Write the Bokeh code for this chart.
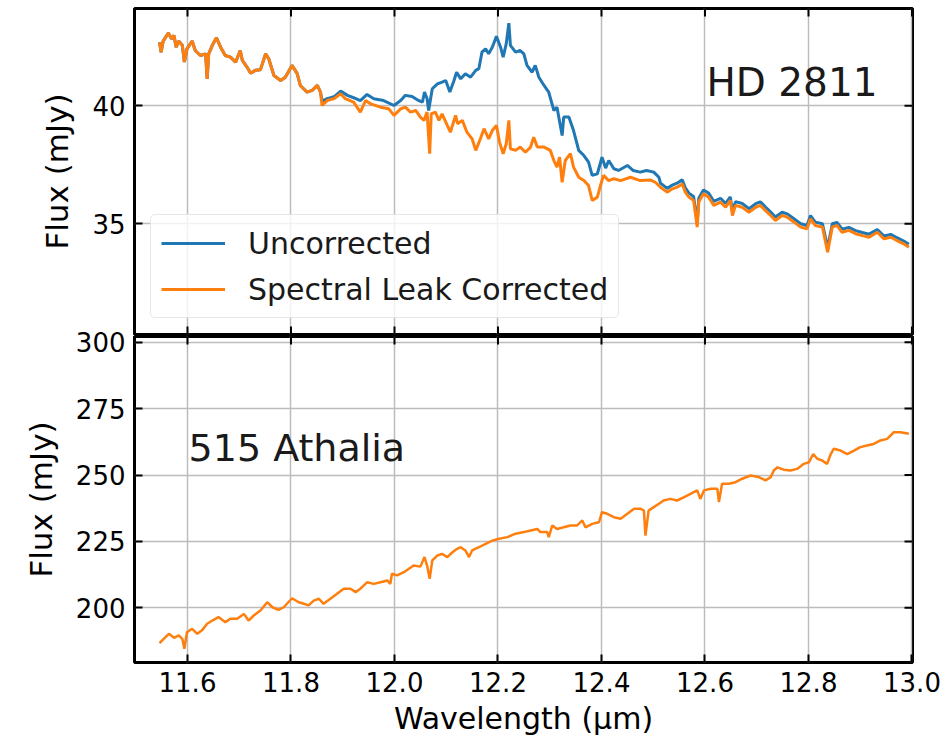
import math
from bokeh.plotting import figure
from bokeh.models import Range1d, FixedTicker, NumeralTickFormatter, Label, Grid
from bokeh.layouts import column
from bokeh.embed import file_html
from bokeh.resources import INLINE

# ---------------- data ----------------
# HD 2811, spectral-leak-corrected spectrum, split in three segments
corr_wave_a = [11.546, 11.549, 11.553, 11.563, 11.569, 11.574, 11.578, 11.583, 11.590, 11.594,
               11.599, 11.609, 11.615, 11.625, 11.635, 11.638, 11.641, 11.648, 11.656, 11.664,
               11.673, 11.683, 11.693, 11.702, 11.706, 11.715, 11.722, 11.731, 11.741, 11.751,
               11.757, 11.767, 11.780, 11.789, 11.802, 11.812, 11.818, 11.831, 11.841, 11.851,
               11.857]
corr_flux_a = [42.69, 42.27, 42.74, 43.08, 42.84, 42.98, 42.48, 42.74, 42.56, 41.85,
               42.41, 42.74, 42.34, 42.13, 42.20, 41.14, 42.20, 42.56, 42.88, 42.48,
               42.13, 42.06, 41.85, 42.34, 41.92, 41.64, 41.38, 41.50, 41.53, 42.20,
               41.99, 41.28, 41.07, 41.21, 41.71, 41.36, 40.86, 40.58, 40.65, 40.86,
               40.58]
corr_wave_b = [11.860, 11.870, 11.883, 11.896, 11.905, 11.921, 11.934, 11.944, 11.954, 11.973,
               11.989, 11.999, 12.012, 12.021, 12.031, 12.041, 12.050, 12.057, 12.063, 12.068,
               12.071, 12.079, 12.086, 12.092, 12.102, 12.108, 12.118, 12.122, 12.131, 12.140,
               12.150, 12.157, 12.166, 12.173, 12.182, 12.189, 12.197, 12.203, 12.210, 12.216,
               12.221, 12.224, 12.234, 12.243, 12.253, 12.263, 12.269, 12.276, 12.289, 12.301,
               12.308, 12.314, 12.319, 12.324, 12.330, 12.340, 12.346, 12.356, 12.366, 12.375,
               12.382, 12.392, 12.398, 12.404, 12.414, 12.424, 12.437, 12.456, 12.475, 12.495,
               12.504]
corr_flux_b = [40.01, 40.22, 40.30, 40.51, 40.30, 40.15, 39.73, 40.22, 40.08, 39.94,
               39.87, 39.59, 39.87, 39.94, 39.73, 39.80, 39.52, 39.38, 39.73, 37.97,
               39.66, 39.73, 39.38, 39.66, 39.17, 38.88, 39.59, 39.24, 39.38, 38.88,
               38.60, 38.11, 38.60, 39.03, 38.60, 38.95, 39.17, 38.46, 37.97, 38.39,
               39.38, 38.18, 38.11, 38.25, 38.03, 38.25, 38.67, 38.25, 38.25, 38.11,
               37.68, 37.40, 37.82, 36.76, 37.68, 37.97, 37.40, 36.97, 36.83, 36.62,
               35.99, 36.13, 36.62, 37.05, 36.83, 36.91, 36.83, 36.97, 36.83, 36.85,
               36.76]
corr_wave_c = [12.514, 12.527, 12.537, 12.546, 12.556, 12.562, 12.569, 12.578, 12.585, 12.588,
               12.597, 12.607, 12.617, 12.630, 12.640, 12.649, 12.653, 12.659, 12.672, 12.685,
               12.698, 12.707, 12.717, 12.727, 12.736, 12.749, 12.759, 12.772, 12.785, 12.797,
               12.804, 12.813, 12.827, 12.837, 12.846, 12.855, 12.865, 12.878, 12.891, 12.904,
               12.917, 12.933, 12.946, 12.959, 12.971, 12.984, 12.994]
corr_flux_c = [36.55, 36.34, 36.48, 36.55, 36.69, 36.34, 36.13, 35.99, 34.86, 35.92,
               36.27, 36.13, 35.78, 35.92, 35.70, 35.99, 35.35, 35.78, 35.70, 35.49,
               35.70, 35.78, 35.56, 35.35, 35.14, 35.35, 35.28, 35.07, 34.86, 34.79,
               35.21, 34.93, 34.86, 33.80, 34.86, 34.93, 34.64, 34.72, 34.58, 34.50,
               34.43, 34.64, 34.36, 34.43, 34.29, 34.15, 34.01]

# HD 2811, uncorrected spectrum where it differs from the corrected one
leak_wave = [11.860, 11.870, 11.883, 11.896, 11.909, 11.921, 11.934, 11.947, 11.960, 11.979,
             11.999, 12.012, 12.021, 12.034, 12.044, 12.054, 12.058, 12.063, 12.066, 12.073,
             12.083, 12.092, 12.099, 12.107, 12.115, 12.120, 12.128, 12.137, 12.147, 12.157,
             12.163, 12.169, 12.176, 12.182, 12.189, 12.197, 12.205, 12.210, 12.216, 12.221,
             12.224, 12.234, 12.243, 12.250, 12.256, 12.266, 12.272, 12.279, 12.289, 12.298,
             12.308, 12.314, 12.324, 12.327, 12.337, 12.346, 12.356, 12.366, 12.375, 12.382,
             12.392, 12.401, 12.408, 12.414, 12.424, 12.433, 12.450, 12.461, 12.475, 12.487,
             12.501, 12.511]
leak_flux = [40.20, 40.30, 40.38, 40.62, 40.44, 40.34, 40.22, 40.48, 40.30, 40.22,
             40.01, 40.22, 40.44, 40.39, 40.25, 40.15, 40.58, 40.30, 39.80, 40.72,
             40.93, 41.00, 41.07, 40.58, 41.07, 41.42, 41.14, 41.36, 41.21, 41.50,
             41.57, 42.27, 42.41, 42.20, 42.48, 42.94, 42.48, 42.06, 42.63, 43.50,
             42.56, 42.27, 42.34, 42.20, 41.71, 41.42, 41.71, 41.21, 40.86, 40.58,
             39.80, 39.94, 38.74, 39.52, 39.52, 38.95, 38.11, 37.89, 37.61, 37.05,
             37.12, 37.82, 37.36, 37.68, 37.33, 37.26, 37.47, 37.26, 37.19, 37.26,
             37.19, 36.97]
unc_flux_c = [36.72, 36.50, 36.64, 36.72, 36.86, 36.52, 36.30, 36.16, 35.05, 36.08,
              36.43, 36.30, 35.95, 36.08, 35.86, 36.14, 35.52, 35.94, 35.86, 35.64,
              35.85, 35.93, 35.71, 35.50, 35.29, 35.49, 35.42, 35.21, 35.00, 34.93,
              35.35, 35.07, 35.00, 33.98, 35.00, 35.06, 34.77, 34.85, 34.71, 34.63,
              34.56, 34.76, 34.48, 34.55, 34.41, 34.27, 34.13]

# 515 Athalia spectrum
ath_wave = [11.546, 11.554, 11.564, 11.574, 11.583, 11.590, 11.594, 11.599, 11.609, 11.619,
            11.628, 11.638, 11.648, 11.660, 11.673, 11.683, 11.696, 11.709, 11.718, 11.728,
            11.741, 11.754, 11.764, 11.776, 11.786, 11.802, 11.815, 11.825, 11.834, 11.844,
            11.854, 11.863, 11.876, 11.889, 11.902, 11.915, 11.925, 11.934, 11.947, 11.960,
            11.973, 11.986, 11.992, 11.995, 12.005, 12.018, 12.028, 12.037, 12.050, 12.058,
            12.063, 12.068, 12.073, 12.083, 12.092, 12.102, 12.112, 12.121, 12.128, 12.137,
            12.144, 12.150, 12.163, 12.176, 12.189, 12.202, 12.218, 12.234, 12.250, 12.263,
            12.276, 12.282, 12.295, 12.298, 12.305, 12.314, 12.327, 12.340, 12.353, 12.363,
            12.369, 12.382, 12.395, 12.401, 12.411, 12.424, 12.437, 12.450, 12.463, 12.475,
            12.482, 12.485, 12.491, 12.501, 12.511, 12.520, 12.533, 12.546, 12.559, 12.572,
            12.585, 12.591, 12.598, 12.611, 12.624, 12.627, 12.633, 12.646, 12.659, 12.672,
            12.688, 12.704, 12.717, 12.727, 12.733, 12.740, 12.752, 12.765, 12.778, 12.791,
            12.801, 12.809, 12.817, 12.826, 12.836, 12.843, 12.849, 12.862, 12.875, 12.888,
            12.900, 12.913, 12.926, 12.939, 12.952, 12.965, 12.978, 12.994]
ath_flux = [186.7, 188.3, 190.2, 188.7, 189.6, 188.3, 184.6, 190.8, 192.1, 190.2,
            191.5, 194.0, 195.2, 196.5, 194.6, 195.9, 195.9, 197.7, 195.2, 197.1,
            199.0, 202.1, 200.2, 199.2, 200.2, 203.6, 202.1, 201.5, 200.9, 202.7,
            203.4, 201.5, 203.4, 205.3, 207.2, 207.2, 205.9, 207.2, 209.6, 209.0,
            209.6, 210.3, 209.0, 212.8, 212.2, 213.4, 214.7, 215.9, 215.5, 219.1,
            215.9, 210.9, 217.8, 219.7, 220.3, 219.1, 220.9, 222.2, 222.8, 221.6,
            219.1, 221.6, 222.8, 224.1, 225.3, 226.0, 226.6, 227.9, 228.5, 229.1,
            229.7, 228.5, 228.5, 226.6, 231.0, 229.7, 230.3, 231.0, 231.0, 232.9,
            230.3, 231.6, 232.2, 236.0, 235.4, 234.1, 233.5, 235.4, 237.3, 237.3,
            236.6, 227.2, 236.6, 237.9, 239.2, 240.4, 241.0, 240.4, 241.6, 242.9,
            244.2, 241.0, 244.2, 244.8, 244.8, 239.8, 246.7, 246.7, 247.3, 248.6,
            249.8, 249.2, 248.0, 249.2, 251.7, 252.9, 252.0, 251.7, 252.3, 254.2,
            254.8, 257.9, 256.1, 255.5, 254.2, 257.9, 259.9, 259.2, 257.9, 259.2,
            260.5, 261.1, 261.7, 263.0, 263.6, 266.1, 266.1, 265.5]

x_ticks = [11.6, 11.8, 12.0, 12.2, 12.4, 12.6, 12.8, 13.0]
top_y_ticks = [35, 40]
bot_y_ticks = [200, 225, 250, 275, 300]

corr_wave = corr_wave_a + corr_wave_b + corr_wave_c
corr_flux = corr_flux_a + corr_flux_b + corr_flux_c
unc_wave = corr_wave_a + leak_wave + corr_wave_c
unc_flux = corr_flux_a + leak_flux + unc_flux_c

# ---------------- styling ----------------
FONT = "DejaVu Sans"
BLUE = "#1f77b4"
ORANGE = "#ff7f0e"
GRID = "#bcbcbc"
W = 942
LEFT = 134
RIGHT = 30
TICK_LEN = 8
OVERLAP = 12

x_range = Range1d(11.4976, 13.001)


def style_axis(ax, ticks, fmt=None):
    ax.ticker = FixedTicker(ticks=ticks)
    if fmt is not None:
        ax.formatter = fmt
    ax.major_tick_in = TICK_LEN
    ax.major_tick_out = 0
    ax.major_tick_line_width = 2
    ax.major_tick_line_color = "black"
    ax.minor_tick_line_color = None
    ax.axis_line_color = None
    ax.major_label_text_font = FONT
    ax.major_label_text_color = "black"
    ax.major_label_text_font_size = "26px"
    ax.major_label_standoff = 9
    ax.axis_label_text_font = FONT
    ax.axis_label_text_font_style = "normal"
    ax.axis_label_text_color = "black"
    ax.axis_label_text_font_size = "31px"


def edge_ticks(p, y_range, y_ticks, bottom_too):
    # inward tick marks on the frame edges without labels (clipped to the frame)
    n = len(x_ticks)
    p.scatter(x_ticks, [y_range.end] * n, marker="dash", angle=math.pi / 2,
              size=2 * TICK_LEN, line_color="black", line_width=2)
    if bottom_too:
        p.scatter(x_ticks, [y_range.start] * n, marker="dash", angle=math.pi / 2,
                  size=2 * TICK_LEN, line_color="black", line_width=2)
    m = len(y_ticks)
    p.scatter([x_range.end] * m, y_ticks, marker="dash", angle=0,
              size=2 * TICK_LEN, line_color="black", line_width=2)


def make_fig(height, y_range, y_ticks, top_b, bottom_b, with_x_axis):
    p = figure(width=W, height=height, x_range=x_range, y_range=y_range,
               output_backend="svg", toolbar_location=None,
               x_axis_location="below" if with_x_axis else None,
               min_border_left=LEFT, min_border_right=RIGHT,
               min_border_top=top_b, min_border_bottom=bottom_b)
    for g in list(p.center):
        if isinstance(g, Grid):
            g.visible = False
    p.add_layout(Grid(dimension=0, ticker=FixedTicker(ticks=x_ticks),
                      grid_line_color=GRID, grid_line_width=1.5))
    p.add_layout(Grid(dimension=1, ticker=FixedTicker(ticks=y_ticks),
                      grid_line_color=GRID, grid_line_width=1.5))
    style_axis(p.left[0], y_ticks)
    p.left[0].axis_label = "Flux (mJy)"
    p.left[0].axis_label_standoff = 14
    if with_x_axis:
        style_axis(p.below[0], x_ticks, NumeralTickFormatter(format="0.0"))
    p.outline_line_color = "black"
    p.outline_line_width = 3
    p.outline_line_alpha = 1.0
    p.background_fill_color = "white"
    p.border_fill_color = "white"
    edge_ticks(p, y_range, y_ticks, not with_x_axis)
    return p


# top panel: HD 2811
p1 = make_fig(335, Range1d(30.31, 44.12), top_y_ticks, 8, 1, False)
p1.line(unc_wave, unc_flux, line_color=BLUE, line_width=3, legend_label="Uncorrected")
p1.line(corr_wave, corr_flux, line_color=ORANGE, line_width=3,
        legend_label="Spectral Leak Corrected")
p1.add_layout(Label(x=12.603, y=40.99, text="HD 2811", text_font=FONT,
                    text_font_size="39px", text_color="#1a1a1a",
                    text_baseline="alphabetic", text_align="left"))
lg = p1.legend[0]
lg.location = (16, 16)
lg.label_text_font = FONT
lg.label_text_font_size = "30px"
lg.label_text_color = "#1a1a1a"
lg.label_height = 36
lg.glyph_height = 36
lg.glyph_width = 64
lg.label_standoff = 23
lg.spacing = 10
lg.padding = 10
lg.margin = 0
lg.border_line_color = "#d0d0d0"
lg.border_line_width = 1.5
lg.background_fill_color = "white"
lg.background_fill_alpha = 0.8
try:
    lg.border_radius = 5
except Exception:
    pass

# bottom panel: 515 Athalia (its canvas overlaps the top one a little so the
# "300" tick label is not cut; its border is transparent)
p2 = make_fig(408 + OVERLAP, Range1d(179.4, 302.15), bot_y_ticks, 1 + OVERLAP, 81, True)
p2.border_fill_alpha = 0
p2.below[0].axis_label = "Wavelength (\u03bcm)"
p2.below[0].axis_label_standoff = 6
p2.below[0].axis_label_text_font_size = "30px"
p2.line(ath_wave, ath_flux, line_color=ORANGE, line_width=2.5)
p2.add_layout(Label(x=11.602, y=260.0, text="515 Athalia", text_font=FONT,
                    text_font_size="38px", text_color="#1a1a1a",
                    text_baseline="alphabetic", text_align="left"))
try:
    p2.margin = (-OVERLAP, 0, 0, 0)
except Exception:
    p2.styles = {"margin-top": "-%dpx" % OVERLAP}

layout = column(p1, p2)
open("out.html", "w").write(file_html(layout, INLINE))
